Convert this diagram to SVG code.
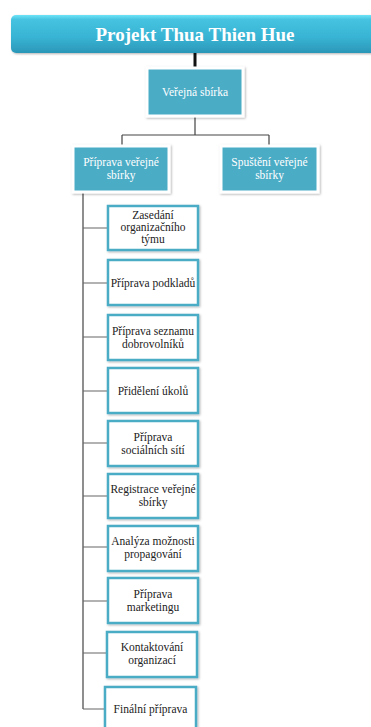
<svg xmlns="http://www.w3.org/2000/svg" width="371" height="727" viewBox="0 0 371 727">
<defs>
<linearGradient id="tg" x1="0" y1="0" x2="0" y2="1">
<stop offset="0" stop-color="#6fe4f7"/>
<stop offset="0.12" stop-color="#45c3e0"/>
<stop offset="0.6" stop-color="#38b3d3"/>
<stop offset="1" stop-color="#2b97b8"/>
</linearGradient>
<filter id="sh" x="-10%" y="-10%" width="125%" height="130%">
<feDropShadow dx="1" dy="1" stdDeviation="1" flood-color="#000" flood-opacity="0.3"/>
</filter>
<style>
.fill{fill:#4bacc6;stroke:#fff;stroke-width:3;filter:url(#sh)}
.box{fill:#fff;stroke:#4bacc6;stroke-width:2.5;filter:url(#sh)}
.wt{font-size:11.5px;fill:#fff;text-anchor:middle}
.bt{font-size:11.5px;fill:#222;text-anchor:middle}
.ln{stroke:#444;stroke-width:1.2;fill:none}
.hl{stroke:#666;stroke-width:1.2;fill:none}
</style>
</defs>
<g id="connectors">
<line x1="195" y1="52" x2="195" y2="67" stroke="#111" stroke-width="3"/>
<path class="ln" d="M195 117 V135 M122 135 H269 M122 135 V145 M269 135 V145"/>
<line class="ln" x1="83" y1="193" x2="83" y2="709"/>
<path class="hl" d="M83 228 H108 M83 283 H108 M83 337 H108 M83 391 H108 M83 443 H108 M83 496 H108 M83 547 H108 M83 601 H108 M83 653 H107 M83 709 H105"/>
</g>
<g font-family="Liberation Serif, serif">
<g id="title">
<rect x="11" y="15" width="375" height="38" rx="5" fill="url(#tg)" filter="url(#sh)"/>
<text x="195" y="41" font-size="19" font-weight="bold" fill="#fff" text-anchor="middle">Projekt Thua Thien Hue</text>
</g>
<g id="verejna-sbirka">
<rect class="fill" x="147" y="68" width="96" height="48"/>
<text class="wt" x="195" y="96">Veřejná sbírka</text>
</g>
<g id="priprava-verejne-sbirky">
<rect class="fill" x="73" y="146" width="96" height="46"/>
<text class="wt" x="121" y="166">Příprava veřejné</text>
<text class="wt" x="121" y="179">sbírky</text>
</g>
<g id="spusteni-verejne-sbirky">
<rect class="fill" x="221" y="146" width="97" height="46"/>
<text class="wt" x="269.5" y="166">Spuštění veřejné</text>
<text class="wt" x="269.5" y="179">sbírky</text>
</g>
<g id="zasedani">
<rect class="box" x="108" y="206" width="90" height="44"/>
<text class="bt" x="153" y="219">Zasedání</text>
<text class="bt" x="153" y="231">organizačního</text>
<text class="bt" x="153" y="243">týmu</text>
</g>
<g id="priprava-podkladu">
<rect class="box" x="108" y="260" width="90" height="45"/>
<text class="bt" x="153" y="287">Příprava podkladů</text>
</g>
<g id="priprava-seznamu">
<rect class="box" x="108" y="315" width="90" height="45"/>
<text class="bt" x="153" y="335">Příprava seznamu</text>
<text class="bt" x="153" y="348">dobrovolníků</text>
</g>
<g id="prideleni-ukolu">
<rect class="box" x="108" y="368" width="90" height="45"/>
<text class="bt" x="153" y="395">Přidělení úkolů</text>
</g>
<g id="priprava-socialnich-siti">
<rect class="box" x="108" y="421" width="90" height="45"/>
<text class="bt" x="153" y="441">Příprava</text>
<text class="bt" x="153" y="454">sociálních sítí</text>
</g>
<g id="registrace">
<rect class="box" x="108" y="474" width="90" height="44"/>
<text class="bt" x="153" y="493">Registrace veřejné</text>
<text class="bt" x="153" y="506">sbírky</text>
</g>
<g id="analyza">
<rect class="box" x="108" y="526" width="90" height="45"/>
<text class="bt" x="153" y="545">Analýza možnosti</text>
<text class="bt" x="153" y="558">propagování</text>
</g>
<g id="priprava-marketingu">
<rect class="box" x="108" y="578" width="90" height="45"/>
<text class="bt" x="153" y="598">Příprava</text>
<text class="bt" x="153" y="611">marketingu</text>
</g>
<g id="kontaktovani">
<rect class="box" x="107" y="632" width="90" height="45"/>
<text class="bt" x="152" y="651">Kontaktování</text>
<text class="bt" x="152" y="664">organizací</text>
</g>
<g id="finalni-priprava">
<rect class="box" x="105" y="687" width="91" height="45"/>
<text class="bt" x="150.5" y="713">Finální příprava</text>
</g>
</g>
</svg>
